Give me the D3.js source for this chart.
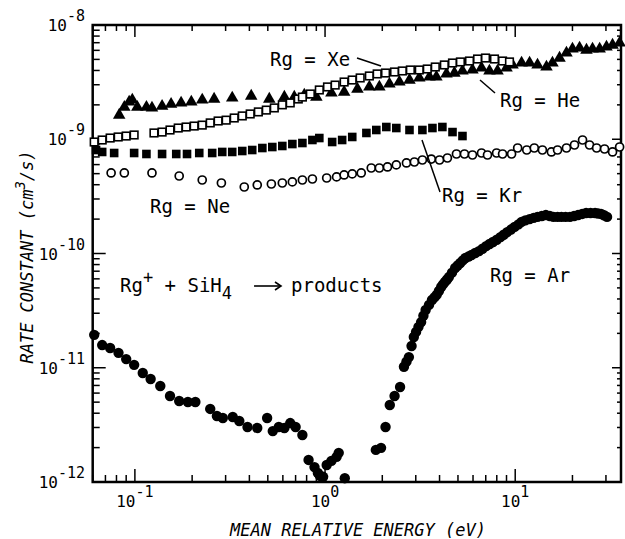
<!DOCTYPE html>
<html><head><meta charset="utf-8">
<script src="https://cdn.jsdelivr.net/npm/d3@7"></script>
<style>body{margin:0;background:#fff}svg{display:block}</style>
</head><body><svg id="c" width="625" height="539"></svg>
<script>
// Energies in eV, rate constants in cm^3/s
const xeE = [0.0611,0.0673,0.0741,0.0817,0.0900,0.0991,0.126,0.139,0.153,0.169,0.186,0.205,0.226,0.249,0.274,0.302,0.333,0.367,0.404,0.446,0.491,0.541,0.596,0.656,0.723,0.760,0.837,0.933,1.03,1.13,1.26,1.39,1.53,1.71,1.88,2.08,2.32,2.55,2.81,3.13,3.45,3.80,4.24,4.68,5.15,5.75,6.34,6.98,7.78,8.58,9.33];
const xeK = [0.946,0.985,1.025,1.047,1.067,1.09,1.135,1.156,1.205,1.254,1.28,1.305,1.33,1.39,1.445,1.47,1.535,1.60,1.665,1.735,1.80,1.88,2.0,2.08,2.25,2.34,2.49,2.70,2.87,2.98,3.17,3.30,3.44,3.58,3.73,3.80,3.88,3.96,4.04,4.04,4.12,4.29,4.47,4.65,4.75,4.84,5.04,5.14,5.04,4.84,4.75].map(v=>v*1e-9);

const heE = [0.0827,0.088,0.0933,0.0969,0.103,0.115,0.123,0.139,0.155,0.175,0.198,0.226,0.261,0.325,0.409,0.509,0.611,0.689,0.778,0.9,1.08,1.26,1.48,1.71,1.93,2.18,2.46,2.78,3.13,3.54,3.85,4.35,4.79,5.28,5.96,6.65,7.32,8.07,9.0,9.68,10.8,11.9,13.1,14.6,15.7,17.1,18.6,20.0,21.8,23.7,25.5,27.8,30.2,32.5,35.4];
const heK = [1.63,1.91,2.12,2.21,1.91,1.91,1.88,1.95,2.03,2.08,2.12,2.21,2.25,2.30,2.39,2.25,2.34,2.34,2.44,2.34,2.54,2.59,2.75,2.87,2.87,3.05,3.17,3.30,3.44,3.51,3.51,3.73,3.80,3.96,4.04,4.21,3.96,3.96,4.21,4.47,4.65,4.65,4.47,4.29,4.65,5.14,5.69,6.17,6.29,6.04,6.17,6.17,6.42,6.68,6.96].map(v=>v*1e-9);

const krE = [0.0625,0.0673,0.0778,0.0991,0.115,0.139,0.165,0.188,0.218,0.255,0.288,0.325,0.367,0.414,0.468,0.528,0.596,0.673,0.760,0.858,0.933,1.09,1.23,1.39,1.65,1.86,2.10,2.37,2.78,3.25,3.67,4.14,4.68,5.28];
const krK = [0.805,0.774,0.758,0.758,0.743,0.743,0.743,0.743,0.758,0.758,0.774,0.774,0.789,0.805,0.838,0.855,0.873,0.908,0.927,0.985,1.025,0.946,0.985,1.047,1.135,1.205,1.28,1.254,1.205,1.205,1.254,1.28,1.156,1.067].map(v=>v*1e-9);

const neE = [0.075,0.088,0.123,0.171,0.226,0.285,0.376,0.44,0.522,0.596,0.673,0.760,0.858,1.02,1.15,1.26,1.39,1.55,1.75,1.93,2.13,2.37,2.68,2.95,3.25,3.62,4.0,4.40,4.91,5.41,5.96,6.65,7.15,7.98,8.58,9.57,10.3,11.5,12.6,13.9,15.5,16.7,18.6,20.5,22.6,24.6,26.8,29.5,32.5,35.4];
const neK = [0.507,0.507,0.507,0.477,0.440,0.414,0.382,0.398,0.406,0.414,0.423,0.440,0.449,0.458,0.468,0.487,0.497,0.507,0.560,0.560,0.572,0.596,0.620,0.632,0.658,0.671,0.658,0.685,0.743,0.743,0.728,0.758,0.728,0.758,0.743,0.743,0.838,0.805,0.838,0.805,0.774,0.805,0.838,0.891,0.985,0.891,0.838,0.822,0.774,0.855].map(v=>v*1e-9);

const arE = [0.0611,0.0673,0.0741,0.0820,0.0900,0.0991,0.110,0.121,0.136,0.153,0.171,0.190,0.208,0.249,0.270,0.290,0.327,0.354,0.391,0.440,0.496,0.531,0.571,0.611,0.656,0.700,0.760,0.819,0.880,0.917,0.941,0.977,1.02,1.08,1.15,1.18,1.27,1.85,1.97,2.08,2.19,2.32,2.48,2.60,2.68,2.76,2.85,2.93,3.01,3.10,3.20,3.29,3.38,3.52,3.65,3.76,3.86,3.97,4.08,4.17,4.27,4.38,4.48,4.65,4.83,4.98,5.14,5.30,5.47,5.68,5.89,6.16,6.45,6.73,7.03,7.33,7.64,8.00,8.36,8.70,9.07,9.50,9.93,10.4,10.8,11.3,11.9,12.5,13.1,13.8,14.5,15.2,15.9,16.7,17.5,18.4,19.4,20.4,21.4,22.5,23.6,24.9,26.3,27.3,28.3,29.3,30.4];
const arK = [19.4,15.8,14.9,13.5,11.9,10.6,9.0,7.97,6.92,5.66,5.12,5.01,5.01,4.36,3.78,3.63,3.71,3.42,3.03,2.97,3.63,2.79,3.03,2.97,3.28,3.03,2.58,1.56,1.35,1.20,1.13,1.11,1.41,1.53,1.66,1.80,1.08,1.91,1.99,3.03,4.72,5.66,6.79,10.2,11.3,12.4,15.5,18.6,20.6,22.8,25.1,28.5,32.0,35.5,39.2,41.3,43.4,47.0,50.9,53.6,56.4,59.2,62.2,68.0,74.6,78.5,82.6,87.0,91.4,94.0,97.0,101,105,110,116,121,126,132,139,146,154,162,171,180,189,195,200,205,209,213,217,213,209,209,209,209,209,213,217,222,226,226,226,224,222,216,209].map(v=>v*1e-12);

const xTickLabels = [{v:0.1,e:"-1"},{v:1,e:"0"},{v:10,e:"1"}];
const yTickLabels = [{v:1e-8,e:"-8"},{v:1e-9,e:"-9"},{v:1e-10,e:"-10"},{v:1e-11,e:"-11"},{v:1e-12,e:"-12"}];

const svg = d3.select("#c");
const L=92.7, R=621, T=25, B=482;
const x = d3.scaleLog().domain([0.06,36]).range([L,R]);
const y = d3.scaleLog().domain([1e-12,1e-8]).range([B,T]);
const mono = "'DejaVu Sans Mono', 'Liberation Mono', monospace";

// minor/major ticks
const xMinor = [], yMinor = [];
for (let d=-2; d<=1; d++) for (let m=1; m<=9; m++){const v=m*Math.pow(10,d); if(v>=0.06&&v<=36) xMinor.push({v, major:m===1});}
for (let d=-12; d<=-9; d++) for (let m=1; m<=9; m++){const v=m*Math.pow(10,d); yMinor.push({v, major:m===1});}
yMinor.push({v:1e-8,major:true});

const g = svg.append("g").attr("stroke","#000").attr("fill","none");
xMinor.forEach(t=>{
  const px=x(t.v), len=t.major?13:7;
  g.append("line").attr("x1",px).attr("x2",px).attr("y1",B).attr("y2",B-len).attr("stroke-width",1.5);
  g.append("line").attr("x1",px).attr("x2",px).attr("y1",T).attr("y2",T+len-1).attr("stroke-width",1.5);
});
yMinor.forEach(t=>{
  const py=y(t.v), len=t.major?13:7;
  g.append("line").attr("x1",L).attr("x2",L+len).attr("y1",py).attr("y2",py).attr("stroke-width",1.5);
  g.append("line").attr("x1",R).attr("x2",R-(t.major?9:4)).attr("y1",py).attr("y2",py).attr("stroke-width",1.5);
});
g.append("rect").attr("x",L).attr("y",T).attr("width",R-L).attr("height",B-T).attr("stroke-width",2.5);

// tick labels
xTickLabels.forEach(t=>{
  const tx = svg.append("text").attr("x",x(t.v)).attr("y",507).attr("text-anchor","middle")
    .attr("font-family",mono).attr("font-size",16).attr("fill","#000");
  tx.append("tspan").text("10");
  tx.append("tspan").attr("dy",-10).attr("font-size",15).text(t.e);
});
yTickLabels.forEach(t=>{
  const tx = svg.append("text").attr("x",85).attr("y",y(t.v)+6).attr("text-anchor","end")
    .attr("font-family",mono).attr("font-size",16).attr("fill","#000");
  tx.append("tspan").text("10");
  tx.append("tspan").attr("dy",-10).attr("font-size",15).text(t.e);
});

// axis titles
svg.append("text").attr("x",358).attr("y",536).attr("text-anchor","middle").attr("font-family",mono)
  .attr("font-style","italic").attr("font-size",17).attr("fill","#000").text("MEAN RELATIVE ENERGY (eV)");
const yt = svg.append("text").attr("transform","translate(33,257) rotate(-90)").attr("text-anchor","middle")
  .attr("font-family",mono).attr("font-style","italic").attr("font-size",17).attr("fill","#000");
yt.append("tspan").text("RATE CONSTANT (cm");
yt.append("tspan").attr("dy",-8).attr("font-size",14).text("3");
yt.append("tspan").attr("dy",8).text("/s)");

// data
const zip = (a,b)=>a.map((v,i)=>[v,b[i]]);
const plot = svg.append("g");
plot.selectAll(".ar").data(zip(arE,arK)).join("circle").attr("cx",d=>x(d[0])).attr("cy",d=>y(d[1])).attr("r",5.2).attr("fill","#000");
plot.selectAll(".kr").data(zip(krE,krK)).join("rect").attr("x",d=>x(d[0])-4.3).attr("y",d=>y(d[1])-4.3).attr("width",8.6).attr("height",8.6).attr("fill","#000");
plot.selectAll(".ne").data(zip(neE,neK)).join("circle").attr("cx",d=>x(d[0])).attr("cy",d=>y(d[1])).attr("r",4).attr("fill","#fff").attr("stroke","#000").attr("stroke-width",1.7);
const tri = d3.symbol().type(d3.symbolTriangle).size(68);
plot.selectAll(".he").data(zip(heE,heK)).join("path").attr("d",tri).attr("transform",d=>`translate(${x(d[0])},${y(d[1])})`).attr("fill","#000");
plot.selectAll(".xe").data(zip(xeE,xeK)).join("rect").attr("x",d=>x(d[0])-3.8).attr("y",d=>y(d[1])-3.8).attr("width",7.6).attr("height",7.6).attr("fill","#fff").attr("stroke","#000").attr("stroke-width",1.6);

// annotations
const ann = (tx,ty,s)=>svg.append("text").attr("x",tx).attr("y",ty).attr("font-family",mono).attr("font-size",19).attr("fill","#000").attr("xml:space","preserve").text(s);
ann(270,66,"Rg = Xe");
ann(500,107,"Rg = He");
ann(442,202,"Rg = Kr");
ann(150,213,"Rg = Ne");
ann(490,282,"Rg = Ar");
const lead = (a,b,c,d)=>svg.append("line").attr("x1",a).attr("y1",b).attr("x2",c).attr("y2",d).attr("stroke","#000").attr("stroke-width",1.5);
lead(357,58,381,66);
lead(480,80,495,93);
lead(422,140,440,192);
const rx = svg.append("text").attr("x",120).attr("y",292).attr("font-family",mono).attr("font-size",19).attr("fill","#000").attr("xml:space","preserve");
rx.append("tspan").text("Rg");
rx.append("tspan").attr("dy",-9).attr("font-size",17).text("+");
rx.append("tspan").attr("dy",9).text(" + SiH");
rx.append("tspan").attr("dy",7).attr("font-size",17).text("4");
svg.append("text").attr("x",291).attr("y",292).attr("font-family",mono).attr("font-size",19).attr("fill","#000").text("products");
// reaction arrow
const ax0 = 254, ax1 = 281, ay = 286;
svg.append("line").attr("x1",ax0).attr("y1",ay).attr("x2",ax1).attr("y2",ay).attr("stroke","#000").attr("stroke-width",1.6);
svg.append("path").attr("d",`M${ax1-6},${ay-4} L${ax1},${ay} L${ax1-6},${ay+4}`).attr("fill","none").attr("stroke","#000").attr("stroke-width",1.6);
</script></body></html>
